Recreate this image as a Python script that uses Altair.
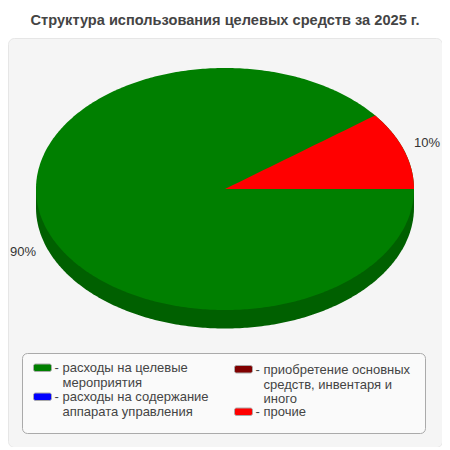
import math
import altair as alt
import pandas as pd

TITLE = "Структура использования целевых средств за 2025 г."
SHARES = [89.6, 0, 0, 10.4]
PIE_LABELS = ["90%", "10%"]
LEGEND_COLORS = ["#008000", "#0000ff", "#800000", "#ff0000"]
LEGEND_LINES = [
    ["расходы на целевые", "мероприятия"],
    ["расходы на содержание", "аппарата управления"],
    ["приобретение основных", "средств, инвентаря и", "иного"],
    ["прочие"],
]

FONT = "Liberation Sans"
OX, OY = 8, 38
W, H = 434, 409
CX, CY, RX, RY, DEPTH = 225, 189, 189, 121, 18.5


def px(x):
    return alt.value(x - OX)


def py(y):
    return alt.value(y - OY)


x_scale = alt.Scale(domain=[(OX - CX) / RX, (OX + W - CX) / RX], range=[0, W], nice=False, zero=False)
y_scale = alt.Scale(domain=[(CY - OY - H) / RY, (CY - OY) / RY], range=[H, 0], nice=False, zero=False)

sweep = math.radians(SHARES[3] / 100 * 360)
d = DEPTH / RY
n = 240
xs = sorted({-math.cos(math.pi * i / n) for i in range(n + 1)})


def rim(x):
    return math.sqrt(max(0.0, 1 - x * x))


side = pd.DataFrame({"x": xs, "y": [-rim(x) - d for x in xs], "y2": [0.0 for x in xs]})
top = pd.DataFrame({"x": xs, "y": [rim(x) for x in xs], "y2": [-rim(x) for x in xs]})
ca = math.cos(sweep)
wx = [ca * i / 20 for i in range(21)] + [ca + (1 - ca) * math.sin(math.pi / 2 * i / 60) for i in range(1, 61)]
wedge = pd.DataFrame({"x": wx, "y": [min(x * math.tan(sweep), rim(x)) if x < ca else rim(x) for x in wx], "y2": [0.0 for x in wx]})


def area(df, color):
    return alt.Chart(df).mark_area(color=color, interpolate="linear", strokeWidth=0).encode(
        x=alt.X("x:Q", scale=x_scale, axis=None),
        y=alt.Y("y:Q", scale=y_scale, axis=None),
        y2="y2:Q",
    )


one = alt.Data(values=[{"a": 1}])
layers = [area(side, "#006000"), area(top, "#007f00"), area(wedge, LEGEND_COLORS[3])]


def text(s, x, y, align="left", size=13, color="#444444"):
    return alt.Chart(one).mark_text(text=s, align=align, baseline="alphabetic", font=FONT, fontSize=size, color=color).encode(x=px(x), y=py(y))


layers.append(text(PIE_LABELS[0], 10, 256, size=13, color="#333333"))
layers.append(text(PIE_LABELS[1], 414, 147, size=13, color="#333333"))

layers.append(
    alt.Chart(one).mark_rect(fill="#fafafa", stroke="#aaaaaa", strokeWidth=1, cornerRadius=5).encode(
        x=px(22.5), x2=px(425.5), y=py(353.5), y2=py(433.5)
    )
)

SWATCH_X = [33.5, 33.5, 234.5, 234.5]
SWATCH_Y = [364, 393, 365.5, 408]
TEXT_Y = [372, 401, 374, 416]
for color, lines, sx, sy, ty in zip(LEGEND_COLORS, LEGEND_LINES, SWATCH_X, SWATCH_Y, TEXT_Y):
    layers.append(
        alt.Chart(one).mark_rect(fill=color, stroke="#aaaaaa", strokeWidth=1, cornerRadius=2).encode(
            x=px(sx), x2=px(sx + 18), y=py(sy), y2=py(sy + 7.5)
        )
    )
    layers.append(text("-", sx + 21, ty))
    for i, line in enumerate(lines):
        layers.append(text(line, sx + 29, ty + i * 14.5 - (0.5 if i == 2 else 0)))

chart = (
    alt.layer(*layers)
    .properties(
        width=W,
        height=H,
        padding={"left": 0, "top": 30, "right": 0, "bottom": 0},
        autosize=alt.AutoSizeParams(type="none"),
        title=alt.TitleParams(TITLE, font=FONT, fontSize=14.6, fontWeight="bold", color="#444444", anchor="middle", dx=0, offset=10),
    )
    .configure_view(fill="#f5f5f5", stroke="#e6e6e6", cornerRadius=6)
)
chart.save("out.html", embed_options={"renderer": "svg", "actions": False})
